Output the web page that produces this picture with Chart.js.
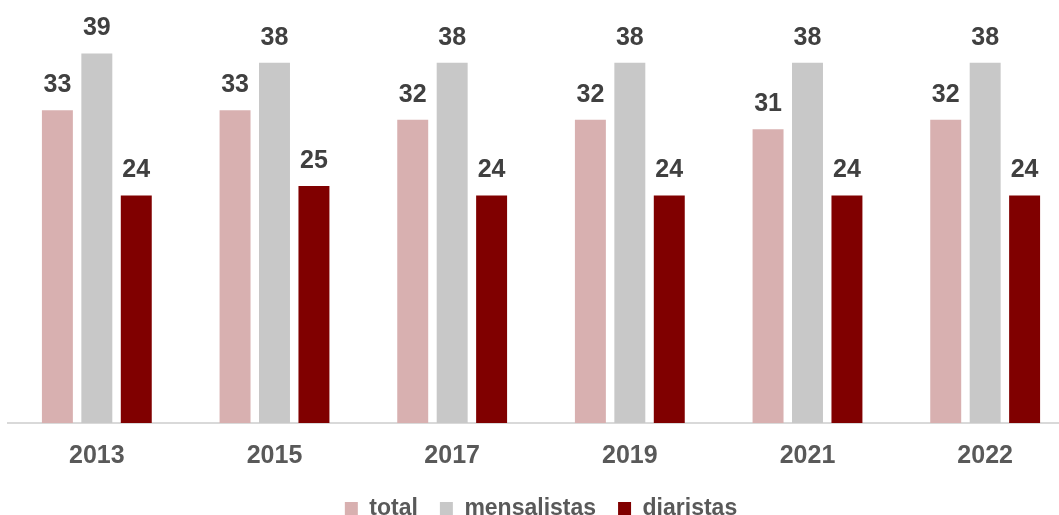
<!DOCTYPE html>
<html>
<head>
<meta charset="utf-8">
<script src="https://cdn.jsdelivr.net/npm/chart.js@4"></script>
<style>
  html, body { margin: 0; padding: 0; background: #fff; overflow: hidden; }
  #clip { width: 1059px; height: 515px; overflow: hidden; }
  #wrap { width: 1090px; height: 530px; }
</style>
</head>
<body>
<div id="clip"><div id="wrap"><canvas id="bar_Chart"></canvas></div></div>
<script>
const years = ['2013', '2015', '2017', '2019', '2021', '2022'];
const total = [33, 33, 32, 32, 31, 32];
const mensalistas = [39, 38, 38, 38, 38, 38];
const diaristas = [24, 25, 24, 24, 24, 24];

// numbers above each bar
const barLabels = {
    id: 'barLabels',
    afterDatasetsDraw(chart) {
        const c = chart.ctx;
        c.save();
        c.font = 'bold 25px "Liberation Sans", Arial, sans-serif';
        c.fillStyle = '#404040';
        c.textAlign = 'center';
        c.textBaseline = 'middle';
        chart.data.datasets.forEach((ds, i) => {
            chart.getDatasetMeta(i).data.forEach((bar, j) => {
                c.fillText(ds.data[j], bar.x, bar.y - 25);
            });
        });
        c.restore();
    }
};

let ctx = document.getElementById('bar_Chart');
let graphData = {
    type: 'bar',
    data: {
        labels: years,
        datasets: [
            { label: 'total', data: total, backgroundColor: '#d8b0b0' },
            { label: 'mensalistas', data: mensalistas, backgroundColor: '#c8c8c8' },
            { label: 'diaristas', data: diaristas, backgroundColor: '#800000' },
        ]
    },
    options: {
        responsive: true,
        maintainAspectRatio: false,
        animation: false,
        categoryPercentage: 0.666,
        barPercentage: 0.785,
        layout: { padding: { left: 8, right: 16, top: 6, bottom: 0 } },
        plugins: {
            tooltip: { enabled: false },
            legend: {
                position: 'bottom',
                labels: {
                    boxWidth: 13,
                    boxHeight: 13,
                    padding: 22,
                    color: '#595959',
                    font: { family: '"Liberation Sans", Arial, sans-serif', size: 23, weight: 'bold' }
                }
            }
        },
        scales: {
            y: {
                display: false,
                min: 0,
                max: 44,
            },
            x: {
                grid: { display: false },
                border: { color: '#d9d9d9', width: 2 },
                afterFit: function (scale) { scale.height -= 6; },
                ticks: {
                    color: '#595959',
                    padding: 10,
                    font: { family: '"Liberation Sans", Arial, sans-serif', size: 25, weight: 'bold' }
                }
            }
        }
    },
    plugins: [barLabels]
};

let bar_Chart = new Chart(ctx, graphData);
</script>
</body>
</html>
